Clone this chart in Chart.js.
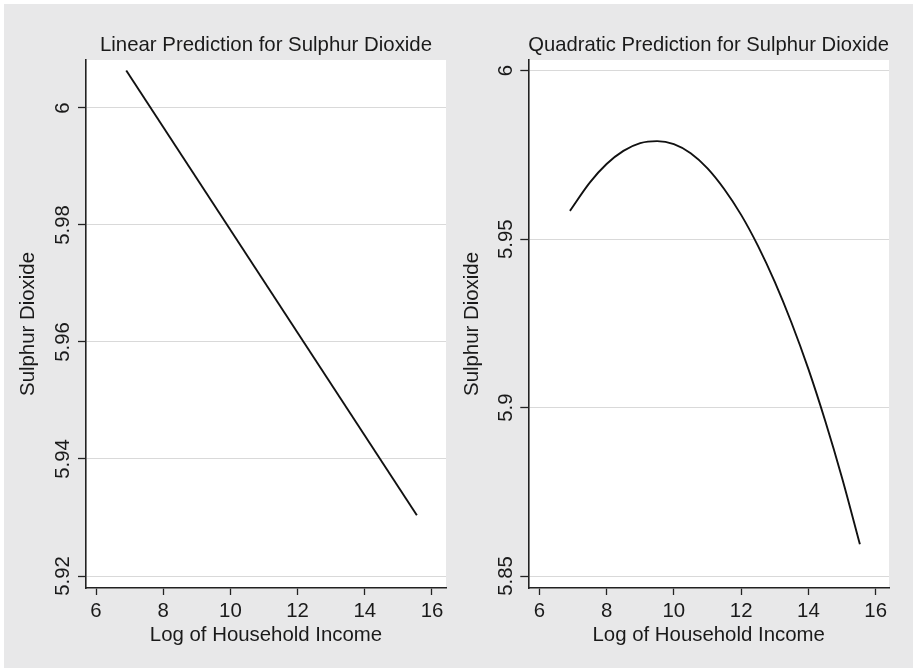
<!DOCTYPE html>
<html><head><meta charset="utf-8">
<script src="https://cdn.jsdelivr.net/npm/chart.js@4"></script>
<style>
html,body{margin:0;padding:0;background:#fff;}
#wrap{position:absolute;left:4px;top:4px;width:909px;height:664px;background:#e8e8e9;overflow:hidden;}
canvas{position:absolute;top:0;}
#c1{left:0;} #c2{left:452px;}
</style></head><body>
<div id="wrap"><canvas id="c1" width="452" height="664"></canvas><canvas id="c2" width="457" height="664"></canvas></div>
<script>
// ---- data ----
const xTickValues = [6, 8, 10, 12, 14, 16];
const linearYTicks = [5.92, 5.94, 5.96, 5.98, 6];
const quadYTicks = [5.85, 5.9, 5.95, 6];

const linearIncome = [6.90, 15.55];
const linearSO2 = [6.0064, 5.9304];

const quadIncome = [6.91, 7.5, 8, 8.5, 9, 9.5, 10, 10.5, 11, 11.5, 12, 12.5, 13, 13.5, 14, 14.5, 15, 15.53];
const quadSO2 = [5.9584, 5.9668, 5.9723, 5.9762, 5.9785, 5.9791, 5.9782, 5.9755, 5.9710, 5.9648, 5.9572, 5.9480, 5.9373, 5.9251, 5.9114, 5.8960, 5.8791, 5.8594];

const leftTitle = 'Linear Prediction for Sulphur Dioxide';
const rightTitle = 'Quadratic Prediction for Sulphur Dioxide';
const xTitle = 'Log of Household Income';
const yTitle = 'Sulphur Dioxide';

// ---- styling ----
const FONT = {family: '"Liberation Sans", Arial, Helvetica, sans-serif', size: 20.4, weight: 'normal', lineHeight: 1.2};
const TEXT = '#1a1a1a';
const AXIS = '#222';
const GRID = '#d9d9d9';

const plotBg = {
  id: 'plotBg',
  beforeDraw(chart) {
    const {ctx, chartArea: a} = chart;
    ctx.save();
    ctx.fillStyle = '#fff';
    ctx.fillRect(a.left, a.top, a.right - a.left, a.bottom - a.top);
    ctx.restore();
  }
};

const fmt = v => String(Number(Number(v).toFixed(4)));

function build(id, o) {
  const pts = o.xs.map((x, i) => ({x, y: o.ys[i]}));
  return new Chart(document.getElementById(id), {
    type: 'line',
    data: {datasets: [{
      data: pts, borderColor: '#111', borderWidth: 1.9, pointRadius: 0,
      fill: false, tension: o.tension, cubicInterpolationMode: o.cim || 'default'
    }]},
    options: {
      responsive: false, animation: false, devicePixelRatio: 1,
      layout: {padding: o.pad},
      plugins: {
        legend: {display: false}, tooltip: {enabled: false},
        title: {display: true, text: o.title, color: TEXT, font: FONT, fullSize: false,
                padding: {top: 0, bottom: 2}}
      },
      scales: {
        x: {
          type: 'linear', position: 'bottom', min: o.xMin, max: o.xMax,
          afterBuildTicks: s => { s.ticks = xTickValues.map(v => ({value: v})); },
          afterFit: s => { s.height = 63.5; },
          ticks: {color: TEXT, font: FONT, padding: 4.5, maxRotation: 0, minRotation: 0, autoSkip: false, callback: fmt},
          grid: {drawOnChartArea: false, drawTicks: true, tickLength: 7, tickColor: AXIS, tickWidth: 1.3},
          border: {display: true, color: AXIS, width: 1.6},
          title: {display: true, text: xTitle, color: TEXT, font: FONT, padding: {top: 4, bottom: 3.5}}
        },
        y: {
          type: 'linear', position: 'left', min: o.yMin, max: o.yMax,
          afterBuildTicks: s => { s.ticks = o.yTicks.map(v => ({value: v})); },
          afterFit: s => { s.width = o.yWidth; },
          ticks: {color: TEXT, font: FONT, padding: o.yTickPad, minRotation: 90, maxRotation: 90,
                  crossAlign: 'center', autoSkip: false, callback: fmt},
          grid: {color: GRID, lineWidth: 1, drawTicks: true, tickLength: 8, tickColor: AXIS, tickWidth: 1.3},
          border: {display: true, color: AXIS, width: 1.6},
          title: {display: true, text: yTitle, color: TEXT, font: FONT, padding: {top: o.yTitlePad, bottom: 0}}
        }
      }
    },
    plugins: [plotBg]
  });
}

build('c1', {
  title: leftTitle, xs: linearIncome, ys: linearSO2, yTicks: linearYTicks,
  xMin: 5.702, xMax: 16.417, yMin: 5.91795, yMax: 6.0082,
  pad: {left: 8, right: 10, top: 29.5, bottom: 16.5},
  yWidth: 74, yTitlePad: 4.4, yTickPad: -5, tension: 0
});
build('c2', {
  title: rightTitle, xs: quadIncome, ys: quadSO2, yTicks: quadYTicks,
  xMin: 5.673, xMax: 16.395, yMin: 5.84644, yMax: 6.00318,
  pad: {left: 0, right: 24, top: 29.5, bottom: 16.5},
  yWidth: 72.3, yTitlePad: 3.8, yTickPad: -6, tension: 0.4, cim: 'monotone'
});
</script>
</body></html>
